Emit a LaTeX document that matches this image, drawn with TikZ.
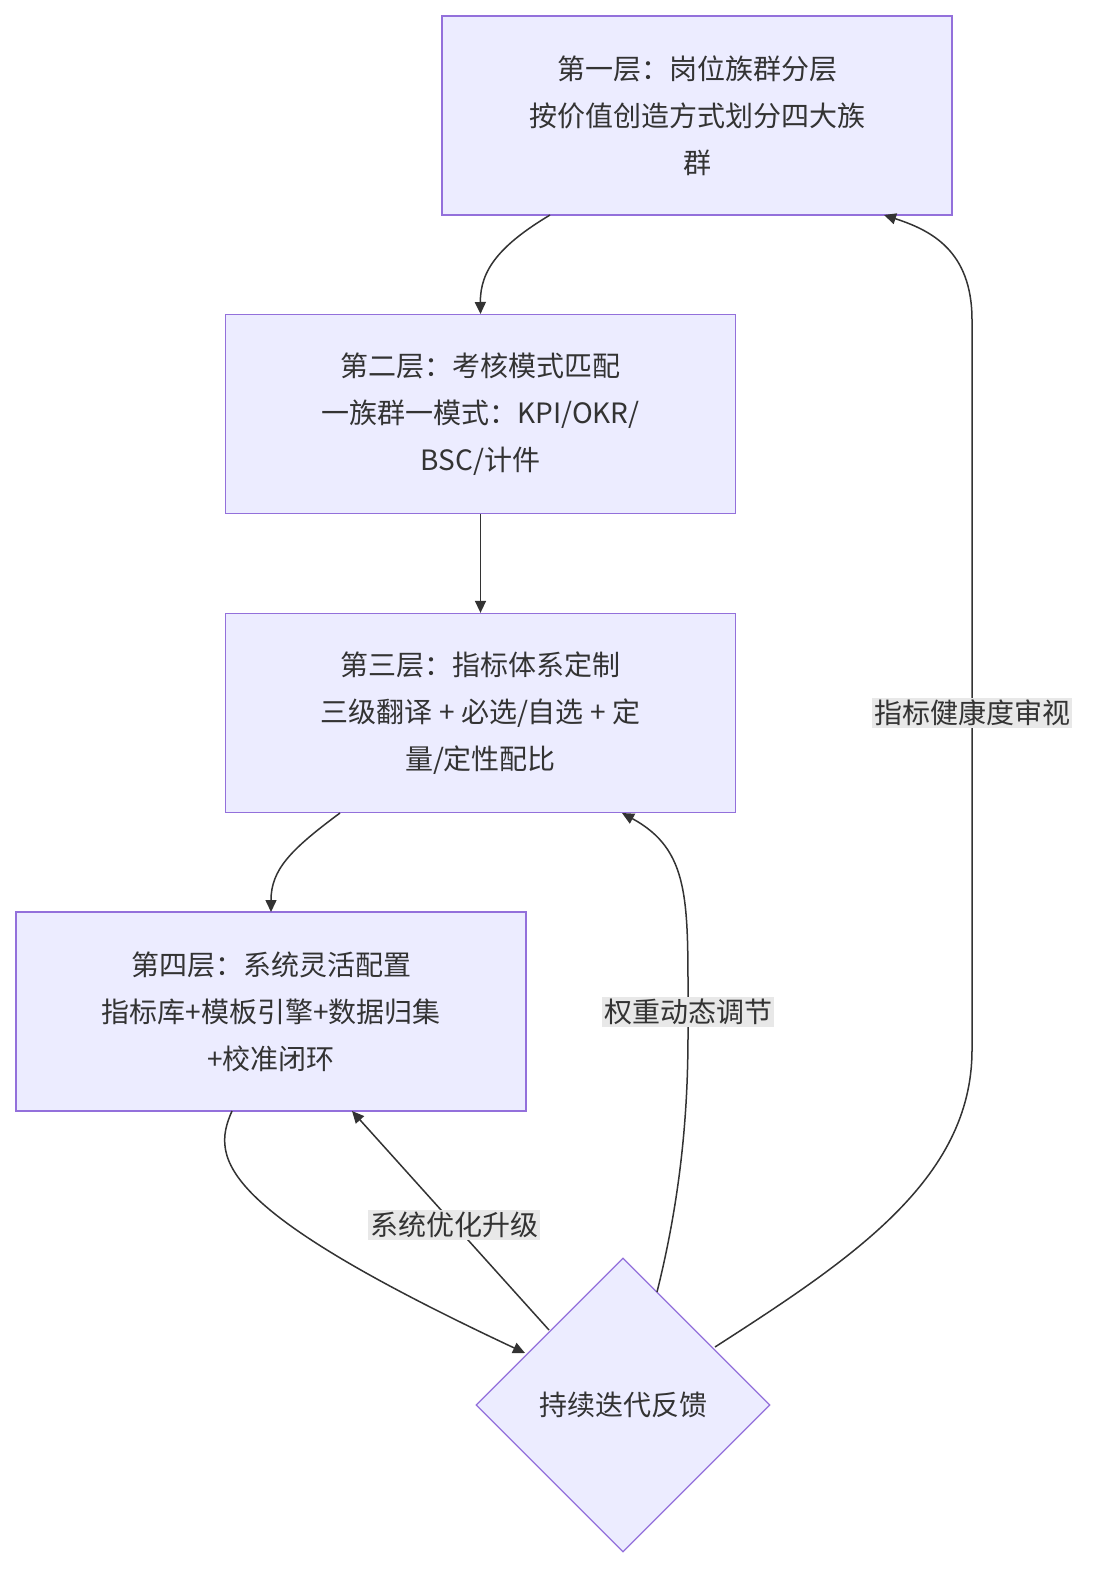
\documentclass[tikz,border=0pt]{standalone}
\usepackage{fontspec}
\setmainfont{Noto Sans CJK SC}
\usetikzlibrary{shapes.geometric,arrows.meta}
\definecolor{nfill}{HTML}{ECECFF}
\definecolor{nborder}{HTML}{9370DB}
\definecolor{ink}{HTML}{333333}
\definecolor{lbg}{HTML}{E8E8E8}
\tikzset{
 boxn/.style={draw=nborder,fill=nfill,line width=1.3pt,minimum width=510pt,minimum height=199pt,align=center,text=ink,font=\fontsize{28}{47}\selectfont,inner sep=0pt},
 dia/.style={draw=nborder,fill=nfill,line width=1.3pt,diamond,minimum width=294pt,minimum height=294pt,aspect=1,inner sep=0pt,text=ink,font=\fontsize{28}{34}\selectfont},
 conn/.style={draw=ink,line width=1.5pt,-{Triangle[length=12pt,width=11pt]}},
 lab/.style={fill=lbg,text=ink,font=\fontsize{28}{34}\selectfont,inner sep=2pt}
}
\begin{document}
\begin{tikzpicture}[x=1pt,y=-1pt]
\useasboundingbox (0,0) rectangle (1119,1596);
\fill[white] (0,0) rectangle (1119,1596);
\node[boxn] (b1) at (697,115.5) {第一层：岗位族群分层\\按价值创造方式划分四大族\\群};
\node[boxn] (b2) at (480.5,414) {第二层：考核模式匹配\\一族群一模式：KPI/OKR/\\BSC/计件};
\node[boxn] (b3) at (480.5,713) {第三层：指标体系定制\\三级翻译 + 必选/自选 + 定\\量/定性配比};
\node[boxn] (b4) at (271,1011.5) {第四层：系统灵活配置\\指标库+模板引擎+数据归集\\+校准闭环};
\node[dia] (d) at (623,1405) {持续迭代反馈};
\coordinate (b1s) at (550,215);
\coordinate (b1e) at (884,215);
\coordinate (b2n) at (480.5,314);
\coordinate (b3s) at (340,813);
\coordinate (b3e) at (622,813);
\coordinate (b4n) at (271,912);
\coordinate (b4s) at (232,1111);
\coordinate (b4e) at (352,1111);
\coordinate (dl) at (525,1353);
\coordinate (dl2) at (549,1330);
\coordinate (dt) at (657,1292);
\coordinate (dr) at (715,1347);
\draw[conn] (b1s) .. controls (500,245) and (480,270) .. (b2n);
\draw[conn] (b2.south) -- (b3.north);
\draw[conn] (b3s) .. controls (290,850) and (271,870) .. (b4n);
\draw[conn] (b4s) .. controls (210,1160) and (220,1210) .. (dl);
\draw[conn] (dl2) -- node[lab,pos=0.48] (l1) {系统优化升级} (b4e);
\draw[conn] (dt) .. controls (690,1160) and (688,1060) .. (688,1010) .. controls (688,900) and (690,850) .. (b3e);
\node[lab] (l2) at (688,1012) {权重动态调节};
\draw[conn] (dr) .. controls (850,1260) and (972,1180) .. (972,1050) -- (972,320) .. controls (972,250) and (930,230) .. (b1e);
\node[lab] (l3) at (972,713) {指标健康度审视};
\end{tikzpicture}
\end{document}
